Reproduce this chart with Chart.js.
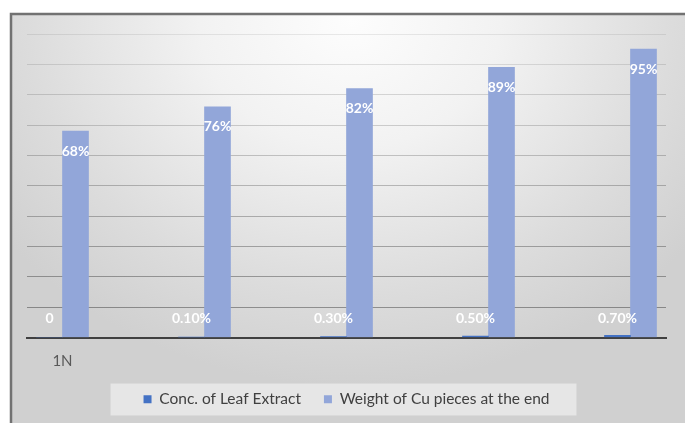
<!DOCTYPE html>
<html>
<head>
<meta charset="utf-8">
<script src="https://cdn.jsdelivr.net/npm/chart.js@4.4.0/dist/chart.umd.min.js"></script>
<style>
  html, body { margin: 0; padding: 0; background: #fff; }
  canvas { display: block; }
</style>
</head>
<body>
<canvas id="cuChart" width="685" height="423"></canvas>
<script>
const categories = ['1N', '', '', '', '']
const leafExtract = [0, 0.001, 0.003, 0.005, 0.007]
const cuWeight = [0.68, 0.76, 0.82, 0.89, 0.95]
const seriesNames = ['Conc. of Leaf Extract', 'Weight of Cu pieces at the end']

function toPoints(values) {
  return values.map((v, i) => ({ x: i, y: v }))
}

function pctLabel(v, decimals) {
  if (v === 0) return '0'
  return (v * 100).toFixed(decimals) + '%'
}

// grey panel, border and the legend strip behind everything
const panel = {
  id: 'panel',
  beforeDraw(chart) {
    const ctx = chart.ctx
    const w = chart.width, h = chart.height
    ctx.save()
    ctx.fillStyle = '#ffffff'
    ctx.fillRect(0, 0, w, h)

    ctx.save()
    ctx.translate(350, 20)
    ctx.scale(1, 0.85)
    const g = ctx.createRadialGradient(0, 0, 0, 0, 0, 430)
    g.addColorStop(0, '#fdfdfd')
    g.addColorStop(0.35, '#f2f2f2')
    g.addColorStop(0.75, '#dcdcdc')
    g.addColorStop(1, '#d0d0d0')
    ctx.fillStyle = g
    ctx.fillRect(-350 + 11, -20 / 0.85 + 14 / 0.85, w, h / 0.85)
    ctx.restore()

    ctx.strokeStyle = '#727272'
    ctx.lineWidth = 2.5
    ctx.beginPath()
    ctx.moveTo(11, h)
    ctx.lineTo(11, 14)
    ctx.lineTo(w, 14)
    ctx.stroke()

    const hb = chart.legend.legendHitBoxes
    if (hb && hb.length) {
      const last = hb[hb.length - 1]
      const left = hb[0].left - 33
      const right = last.left + last.width + 27
      ctx.fillStyle = 'rgba(240,240,240,0.7)'
      ctx.fillRect(left, hb[0].top - 8, right - left, 32)
    }
    ctx.restore()
  }
}

// white value labels: above the base for the thin bars, inside the top for the tall ones
const valueLabels = {
  id: 'valueLabels',
  afterDatasetsDraw(chart) {
    const ctx = chart.ctx
    ctx.save()
    ctx.font = 'bold 14px Lato'
    ctx.fillStyle = '#ffffff'
    ctx.textAlign = 'center'
    ctx.textBaseline = 'middle'
    chart.data.datasets.forEach((ds, di) => {
      const meta = chart.getDatasetMeta(di)
      meta.data.forEach((bar, i) => {
        const v = ds.data[i].y
        if (di === 0) {
          ctx.fillText(pctLabel(v, 2), bar.x, bar.base - 19)
        } else {
          ctx.fillText(pctLabel(v, 0), bar.x, bar.y + 20)
        }
      })
    })
    ctx.restore()
  }
}

new Chart(document.getElementById('cuChart'), {
  type: 'bar',
  data: {
    datasets: [{
      label: seriesNames[0],
      data: toPoints(leafExtract),
      backgroundColor: '#4472c4',
      barThickness: 26
    }, {
      label: seriesNames[1],
      data: toPoints(cuWeight),
      backgroundColor: '#92a6d9',
      barThickness: 26
    }]
  },
  plugins: [panel, valueLabels],
  options: {
    responsive: false,
    animation: false,
    layout: { padding: { left: 27, right: 19, top: 34, bottom: 6 } },
    scales: {
      x: {
        type: 'linear',
        offset: false,
        min: -0.25,
        max: categories.length - 0.75,
        afterBuildTicks: (scale) => {
          scale.ticks = categories.map((c, i) => ({ value: i }))
        },
        afterFit: (scale) => {
          scale.height = 31
        },
        grid: { display: false, drawTicks: false },
        border: { color: '#404040', width: 2 },
        ticks: {
          autoSkip: false,
          padding: 15,
          color: '#595959',
          font: { family: 'Lato', size: 15 },
          callback: (v) => categories[v] || ''
        }
      },
      y: {
        min: 0,
        max: 1,
        ticks: { display: false, stepSize: 0.1 },
        border: { display: false },
        grid: {
          drawTicks: false,
          color: (c) => 'rgba(0,0,0,' + (0.08 + 0.3 * (1 - c.tick.value)).toFixed(3) + ')'
        }
      }
    },
    plugins: {
      tooltip: { enabled: false },
      legend: {
        position: 'bottom',
        labels: {
          boxWidth: 8,
          boxHeight: 8,
          padding: 23,
          color: '#404040',
          font: { family: 'Lato', size: 15.5 }
        }
      }
    }
  }
})
</script>
</body>
</html>
